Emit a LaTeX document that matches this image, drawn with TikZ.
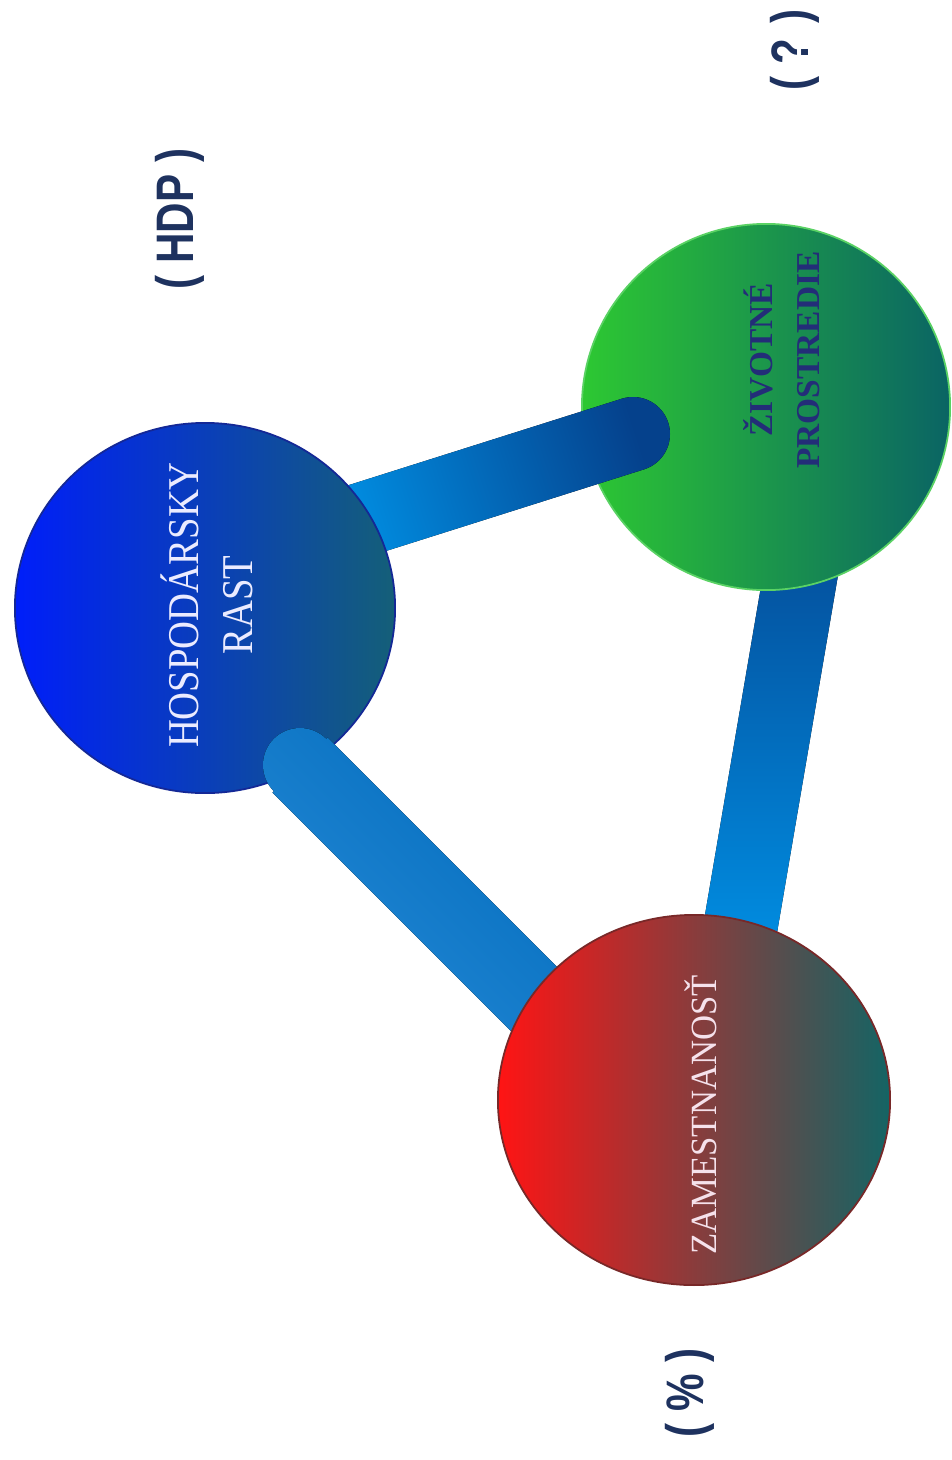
\documentclass[tikz,border=0pt]{standalone}
\usepackage{fontspec}
\setmainfont{Liberation Serif}
\newfontfamily\labfont{Liberation Sans}
\usetikzlibrary{calc,shapes.geometric}
\definecolor{blueL}{RGB}{0,30,250}
\definecolor{blueM}{RGB}{10,58,200}
\definecolor{blueR}{RGB}{20,95,120}
\definecolor{blueEdge}{RGB}{20,40,150}
\definecolor{greenL}{RGB}{45,200,50}
\definecolor{greenM}{RGB}{35,160,72}
\definecolor{greenR}{RGB}{10,100,100}
\definecolor{greenEdge}{RGB}{90,210,100}
\definecolor{redL}{RGB}{255,20,20}
\definecolor{redM}{RGB}{200,60,58}
\definecolor{redR}{RGB}{20,100,100}
\definecolor{redEdge}{RGB}{120,40,40}
\definecolor{barBright}{RGB}{0,150,235}
\definecolor{barDark}{RGB}{5,65,140}
\definecolor{barMid}{RGB}{0,118,208}
\definecolor{labNavy}{RGB}{30,50,95}
\definecolor{txtLight}{RGB}{235,235,255}
\definecolor{txtPink}{RGB}{245,225,235}
\definecolor{txtNavy}{RGB}{35,45,120}
\newcommand\rodbar[4]{%
  \fill[#4] ($(#1)!#3!-90:(#2)$) -- ($(#2)!#3!90:(#1)$) -- ($(#2)!#3!-90:(#1)$) -- ($(#1)!#3!90:(#2)$) -- cycle (#1) circle[radius=37];}
\begin{document}
\begin{tikzpicture}[x=0.01cm,y=0.01cm,
  bluecirc/.style={ellipse, minimum width=3.8cm, minimum height=3.7cm, left color=blueL, middle color=blueM, right color=blueR, draw=blueEdge, line width=0.5pt},
  greencirc/.style={ellipse, minimum width=3.68cm, minimum height=3.66cm, left color=greenL, middle color=greenM, right color=greenR, draw=greenEdge, line width=0.5pt},
  redcirc/.style={ellipse, minimum width=3.92cm, minimum height=3.7cm, left color=redL, middle color=redM, right color=redR, draw=redEdge, line width=0.5pt},
  labeltext/.style={rotate=90, xscale=0.8, text=labNavy, font=\labfont\bfseries\fontsize{15}{18}\selectfont},
  circtext/.style={rotate=90, align=center}
]
\fill[white] (0,0) rectangle (952,-1460);
\useasboundingbox (0,0) rectangle (952,-1460);
% centres and bar ends
\coordinate (bC) at (205,-608);
\coordinate (gC) at (766,-407);
\coordinate (rC) at (694,-1100);
\coordinate (bgEnd) at (633,-434);
\coordinate (bgStart) at (298,-540);
\coordinate (brEnd) at (300,-765);
\coordinate (brStart) at (600,-1065);
\coordinate (grTop) at (815,-490);
\coordinate (grBot) at (728,-1000);
% green-red bar (behind both)
\rodbar{grTop}{grBot}{0.37cm}{top color=barDark, bottom color=barBright}
% green circle
\node[greencirc] (green) at (gC) {};
% blue-green bar
\rodbar{bgEnd}{bgStart}{0.37cm}{left color=barBright, right color=barDark, shading angle=108}
% blue circle
\node[bluecirc] (blue) at (bC) {};
% blue-red bar
\rodbar{brEnd}{brStart}{0.39cm}{left color=barMid!85!white, right color=barMid!90!black, shading angle=135}
% red circle
\node[redcirc] (red) at (rC) {};
% texts
\node[circtext, xscale=0.88, text=txtLight, font=\fontsize{12.5}{15.4}\selectfont] (btext) at (207,-605) {HOSPODÁRSKY\\RAST};
\node[circtext, text=txtNavy, font=\bfseries\fontsize{9.5}{13.4}\selectfont] (gtext) at (782,-360) {ŽIVOTNÉ\\PROSTREDIE};
\node[circtext, xscale=0.94, text=txtPink, font=\fontsize{10.5}{13}\selectfont] (rtext) at (701,-1115) {ZAMESTNANOSŤ};
\node[labeltext] (hdp) at (180,-219) {( HDP )};
\node[labeltext] (q) at (795,-50) {( ? )};
\node[labeltext] (pct) at (690,-1393) {( \% )};
\end{tikzpicture}
\end{document}
